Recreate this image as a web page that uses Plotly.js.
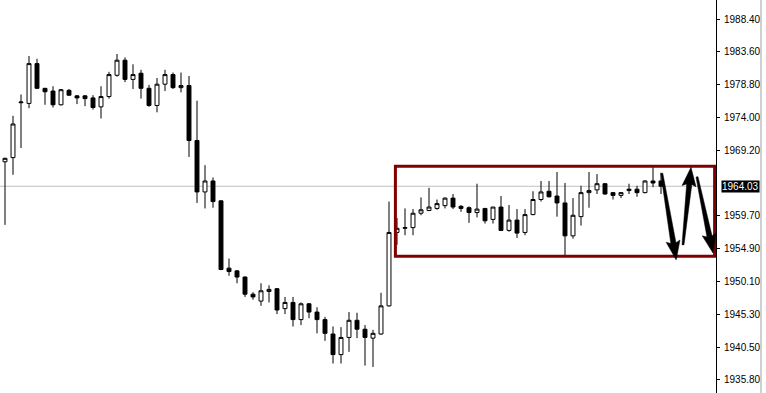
<!DOCTYPE html>
<html>
<head>
<meta charset="utf-8">
<script src="https://cdn.plot.ly/plotly-3.0.1.min.js"></script>
<style>
  html, body { margin: 0; padding: 0; background: #ffffff; }
  #chart { width: 766px; height: 393px; }
</style>
</head>
<body>
<div id="chart"></div>
<script>
// OHLC bars, oldest first
const opens = [1967.6,1968.2,1976.2,1976.1,1981.9,1978.3,1977.9,1975.9,1978.0,1977.2,
  1977.2,1976.9,1975.6,1977.1,1980.2,1982.4,1979.6,1980.5,1978.3,1975.8,
  1978.9,1980.3,1978.4,1978.7,1970.7,1963.2,1964.8,1961.9,1952.1,1951.7,
  1950.8,1948.3,1947.3,1948.7,1949.1,1946.2,1947.1,1944.6,1946.9,1945.7,
  1944.6,1942.5,1939.5,1942.0,1944.5,1943.2,1941.9,1942.5,1946.6,1957.3,
  1957.9,1958.0,1960.1,1960.5,1960.8,1961.2,1962.3,1961.1,1960.9,1960.2,
  1960.8,1959.2,1961.0,1957.6,1959.1,1957.3,1959.9,1962.1,1963.3,1962.6,
  1961.6,1956.8,1959.6,1963.1,1963.5,1964.4,1963.1,1962.7,1963.4,1963.6,
  1963.1,1964.8,1964.8];
const highs = [1968.2,1974.3,1977.4,1983.0,1982.6,1978.3,1978.6,1978.2,1978.2,1977.3,
  1977.3,1977.3,1978.6,1980.7,1983.3,1982.8,1981.8,1981.0,1978.8,1979.8,
  1981.0,1980.6,1980.6,1980.1,1976.5,1967.1,1965.3,1962.0,1953.5,1951.8,
  1950.9,1948.6,1949.9,1949.6,1949.2,1947.9,1947.9,1947.1,1947.0,1946.4,
  1945.0,1943.6,1943.5,1945.7,1945.6,1943.8,1943.1,1948.5,1961.8,1959.4,
  1960.8,1960.7,1962.4,1963.8,1962.1,1962.4,1962.9,1961.3,1961.1,1964.4,
  1960.8,1961.0,1962.6,1961.3,1960.7,1960.7,1963.3,1964.8,1964.8,1966.1,
  1964.5,1962.3,1964.1,1966.1,1965.8,1964.5,1963.2,1963.2,1964.4,1964.1,
  1964.9,1967.0,1966.0];
const lows = [1958.4,1965.7,1969.6,1975.4,1978.2,1975.9,1975.5,1975.8,1977.2,1976.0,
  1975.7,1975.2,1973.9,1976.8,1980.0,1979.2,1978.2,1976.8,1975.6,1974.8,
  1977.9,1978.2,1977.7,1968.3,1961.6,1960.8,1960.9,1951.8,1951.0,1949.9,
  1947.9,1947.5,1946.6,1947.1,1945.4,1945.4,1943.6,1943.8,1944.8,1942.6,
  1941.5,1938.2,1938.2,1939.9,1941.9,1937.9,1937.7,1942.4,1946.5,1955.5,
  1956.9,1956.9,1959.8,1960.4,1960.6,1960.8,1960.7,1960.3,1958.7,1959.5,
  1958.6,1958.6,1957.5,1957.4,1956.5,1956.9,1959.8,1961.8,1962.4,1959.6,
  1954.0,1956.4,1958.3,1960.9,1962.9,1962.8,1962.1,1962.3,1962.9,1962.5,
  1963.0,1963.9,1962.9];
const closes = [1968.1,1973.1,1976.3,1981.9,1978.3,1977.8,1975.9,1978.1,1977.3,1976.9,
  1976.8,1975.5,1977.1,1980.3,1982.4,1979.6,1980.3,1978.3,1975.8,1978.9,
  1980.3,1978.4,1978.7,1970.7,1963.2,1964.8,1961.8,1951.9,1951.6,1950.8,
  1948.3,1947.9,1948.8,1949.0,1946.0,1947.1,1944.6,1946.9,1945.7,1944.6,
  1942.6,1939.5,1942.0,1944.5,1943.2,1942.0,1942.6,1946.6,1957.3,1957.9,
  1958.0,1960.1,1960.6,1961.0,1961.5,1962.3,1961.0,1960.8,1960.2,1960.7,
  1959.0,1961.0,1957.6,1959.1,1957.2,1959.9,1962.1,1963.2,1962.5,1961.6,
  1956.8,1959.8,1963.1,1963.4,1964.4,1962.9,1962.7,1963.1,1963.6,1963.1,
  1964.8,1964.5,1964.03];

// price scale labels on the right
const priceTicks = [1988.40,1983.60,1978.80,1974.00,1969.20,1959.70,1954.90,1950.10,1945.30,1940.50,1935.80];
const lastPrice = 1964.03;

// consolidation box: [first bar, last bar] x [low, high]
const boxBars = [48.8, 88.7];
const boxPrices = [1953.84, 1966.93];

// expected swings: [tail bar, tail price, head bar, head price]
const swingArrows = [
  [82.1, 1965.9, 83.9, 1953.3],
  [84.75, 1955.5, 85.75, 1966.8],
  [86.5, 1965.4, 88.5, 1954.3]
];

const barIndex = opens.map((_, i) => i);

// plot geometry
const W = 766, H = 393, M = { l: 0, r: 50, t: 0, b: 0 };
const PW = W - M.l - M.r, PH = H - M.t - M.b;
const xRange = [-0.625, 88.875];
const yRange = [1933.905, 1991.168];

const toPx = (bx, p) => [
  (bx - xRange[0]) / (xRange[1] - xRange[0]) * PW,
  (yRange[1] - p) / (yRange[1] - yRange[0]) * PH
];
const toData = (px, py) => [
  xRange[0] + px / PW * (xRange[1] - xRange[0]),
  yRange[1] - py / PH * (yRange[1] - yRange[0])
];

// tapered arrow drawn as a filled polygon, built in pixel space
function arrowPath(a) {
  const [tx, ty] = toPx(a[0], a[1]);
  const [hx, hy] = toPx(a[2], a[3]);
  const len = Math.hypot(hx - tx, hy - ty);
  const dx = (hx - tx) / len, dy = (hy - ty) / len;
  const nx = -dy, ny = dx;
  const headLen = 17, headHalf = 7, tailHalf = 1, neckHalf = 2.6;
  const bx = hx - dx * headLen, by = hy - dy * headLen;
  const pts = [
    [tx + nx * tailHalf, ty + ny * tailHalf],
    [bx + nx * neckHalf, by + ny * neckHalf],
    [bx + nx * headHalf - dx * 2, by + ny * headHalf - dy * 2],
    [hx, hy],
    [bx - nx * headHalf - dx * 2, by - ny * headHalf - dy * 2],
    [bx - nx * neckHalf, by - ny * neckHalf],
    [tx - nx * tailHalf, ty - ny * tailHalf]
  ].map(p => toData(p[0], p[1]));
  return 'M' + pts.map(p => p[0] + ',' + p[1]).join(' L') + ' Z';
}

const candles = {
  type: 'candlestick',
  x: barIndex,
  open: opens, high: highs, low: lows, close: closes,
  increasing: { line: { color: '#000000', width: 1 }, fillcolor: '#ffffff' },
  decreasing: { line: { color: '#000000', width: 1 }, fillcolor: '#000000' },
  whiskerwidth: 0,
  hoverinfo: 'skip',
  showlegend: false
};

const shapes = [
  { type: 'line', layer: 'below', xref: 'paper', yref: 'y', x0: 0, x1: 1, y0: lastPrice, y1: lastPrice,
    line: { color: '#c0c0c0', width: 1 } },
  { type: 'rect', xref: 'x', yref: 'y', x0: boxBars[0], x1: boxBars[1], y0: boxPrices[0], y1: boxPrices[1],
    line: { color: '#800000', width: 3 }, fillcolor: 'rgba(0,0,0,0)' },
  { type: 'line', xref: 'paper', yref: 'paper', x0: 761 / PW, x1: 761 / PW, y0: 0, y1: 1,
    line: { color: '#a0a0a0', width: 1 } }
];
swingArrows.forEach(a => shapes.push({
  type: 'path', xref: 'x', yref: 'y', path: arrowPath(a),
  fillcolor: '#000000', line: { color: '#000000', width: 0.5 }
}));

const layout = {
  width: W, height: H,
  margin: { l: M.l, r: M.r, t: M.t, b: M.b, pad: 0 },
  paper_bgcolor: '#ffffff', plot_bgcolor: '#ffffff',
  showlegend: false,
  xaxis: {
    range: xRange,
    visible: false,
    rangeslider: { visible: false },
    fixedrange: true
  },
  yaxis: {
    side: 'right',
    range: yRange,
    showgrid: false, zeroline: false,
    showline: true, linecolor: '#000000', linewidth: 1,
    ticks: 'outside', ticklen: 3, tickcolor: '#000000', tickwidth: 1,
    tickvals: priceTicks,
    ticktext: priceTicks.map(v => v.toFixed(2)),
    ticklabelstandoff: 2,
    tickfont: { family: 'Liberation Sans, Arial, sans-serif', size: 10, color: '#000000' },
    fixedrange: true
  },
  shapes: shapes,
  annotations: [{
    xref: 'paper', yref: 'y', x: 1, y: lastPrice, xanchor: 'left', yanchor: 'middle',
    xshift: 5,
    text: lastPrice.toFixed(2), showarrow: false,
    bgcolor: '#000000', borderpad: 0,
    font: { family: 'Liberation Sans, Arial, sans-serif', size: 10, color: '#ffffff' }
  }]
};

Plotly.newPlot('chart', [candles], layout, { displayModeBar: false, staticPlot: true });
</script>
</body>
</html>
